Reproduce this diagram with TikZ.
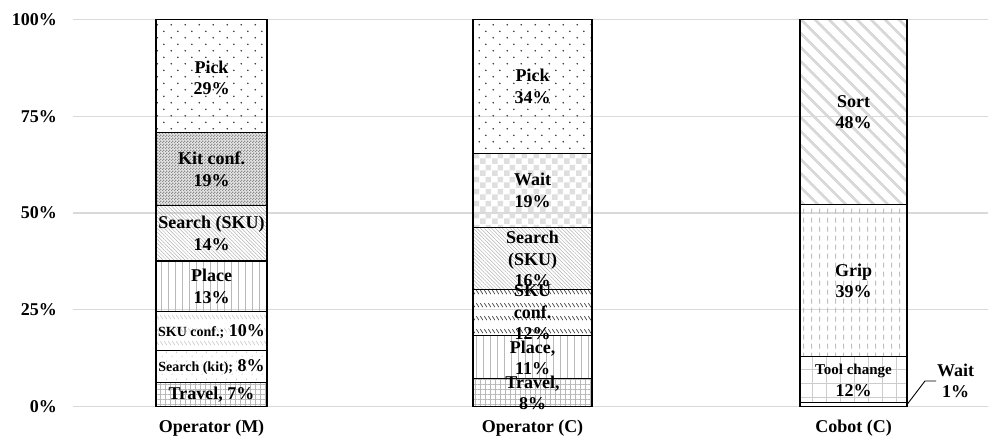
\documentclass[tikz,border=0pt]{standalone}
\usepackage{fontspec}
\setmainfont{Liberation Serif}
\usetikzlibrary{patterns.meta}
\definecolor{gridgray}{RGB}{217,217,217}

% fill patterns of the bar segments
\pgfdeclarepattern{
  name=pickdots, type=uncolored,
  bottom left={\pgfpoint{0pt}{0pt}}, top right={\pgfpoint{14pt}{13.4pt}},
  tile size={\pgfpoint{14pt}{13.4pt}},
  code={
    \pgfpathcircle{\pgfpoint{3.5pt}{3.35pt}}{0.9pt}
    \pgfpathcircle{\pgfpoint{10.5pt}{10.05pt}}{0.9pt}
    \pgfusepath{fill}
  }
}
\pgfdeclarepattern{
  name=finecheck, type=uncolored,
  bottom left={\pgfpoint{0pt}{0pt}}, top right={\pgfpoint{3pt}{3pt}},
  tile size={\pgfpoint{3pt}{3pt}},
  code={
    \pgfpathrectangle{\pgfpoint{0pt}{0pt}}{\pgfpoint{1.5pt}{1.5pt}}
    \pgfpathrectangle{\pgfpoint{1.5pt}{1.5pt}}{\pgfpoint{1.5pt}{1.5pt}}
    \pgfusepath{fill}
  }
}
\pgfdeclarepattern{
  name=widecheck, type=uncolored,
  bottom left={\pgfpoint{0pt}{0pt}}, top right={\pgfpoint{12pt}{12pt}},
  tile size={\pgfpoint{12pt}{12pt}},
  code={
    \pgfpathrectangle{\pgfpoint{0pt}{0pt}}{\pgfpoint{6pt}{6pt}}
    \pgfpathrectangle{\pgfpoint{6pt}{6pt}}{\pgfpoint{6pt}{6pt}}
    \pgfusepath{fill}
  }
}
\pgfdeclarepattern{
  name=dashdiag, type=uncolored,
  bottom left={\pgfpoint{0pt}{0pt}}, top right={\pgfpoint{4pt}{12.5pt}},
  tile size={\pgfpoint{4pt}{12.5pt}},
  code={
    \pgfsetlinewidth{0.8pt}
    \pgfpathmoveto{\pgfpoint{0.5pt}{11pt}}
    \pgfpathlineto{\pgfpoint{3.5pt}{7pt}}
    \pgfusepath{stroke}
  }
}
\pgfdeclarepattern{
  name=confetti, type=uncolored,
  bottom left={\pgfpoint{0pt}{0pt}}, top right={\pgfpoint{10pt}{9pt}},
  tile size={\pgfpoint{10pt}{9pt}},
  code={
    \pgfsetlinewidth{0.7pt}
    \pgfpathmoveto{\pgfpoint{2pt}{2pt}}
    \pgfpathlineto{\pgfpoint{2.6pt}{3.6pt}}
    \pgfpathmoveto{\pgfpoint{7pt}{6.5pt}}
    \pgfpathlineto{\pgfpoint{7.6pt}{8.1pt}}
    \pgfusepath{stroke}
  }
}
\pgfdeclarepattern{
  name=vdashes, type=uncolored,
  bottom left={\pgfpoint{0pt}{0pt}}, top right={\pgfpoint{8pt}{9pt}},
  tile size={\pgfpoint{8pt}{9pt}},
  code={
    \pgfsetlinewidth{1pt}
    \pgfpathmoveto{\pgfpoint{4pt}{1.5pt}}
    \pgfpathlineto{\pgfpoint{4pt}{7pt}}
    \pgfusepath{stroke}
  }
}

\begin{document}
\begin{tikzpicture}[x=1pt, y=3.87pt]
    \tikzstyle{seg} = [draw=black, line width=1.2pt]
    \tikzstyle{gridline} = [draw=gridgray, line width=1.4pt]
    \tikzstyle{lbl} = [font=\bfseries\fontsize{18}{21.5}\selectfont, align=center, inner sep=1pt]
    \tikzstyle{axlbl} = [font=\bfseries\fontsize{18}{21.5}\selectfont, inner sep=1pt]
    \tikzstyle{leader} = [draw=black, line width=0.9pt]
    % segment fills
    \tikzstyle{fpick} = [pattern=pickdots, pattern color=black!80]
    \tikzstyle{fkit} = [preaction={fill=gray!20}, pattern=finecheck, pattern color=gray!90]
    \tikzstyle{fsearch} = [pattern={Lines[angle=-45,distance=2.6pt,line width=0.5pt]}, pattern color=gray!60]
    \tikzstyle{fplace} = [pattern={Lines[angle=90,distance=7pt,line width=0.8pt]}, pattern color=gray!55]
    \tikzstyle{fskuconf} = [pattern=dashdiag, pattern color=gray!40]
    \tikzstyle{fskudark} = [pattern=dashdiag, pattern color=black!75]
    \tikzstyle{fkitsearch} = [pattern=confetti, pattern color=gray!45]
    \tikzstyle{ftravel} = [pattern={Hatch[angle=0,distance=5pt,line width=0.6pt]}, pattern color=gray!55]
    \tikzstyle{fwait} = [pattern=widecheck, pattern color=gray!25]
    \tikzstyle{fsort} = [pattern={Lines[angle=-45,distance=10.5pt,line width=3pt]}, pattern color=gray!30]
    \tikzstyle{fgrip} = [pattern=vdashes, pattern color=gray!50]
    \tikzstyle{ftool} = [pattern={Hatch[angle=0,distance=14pt,line width=0.8pt]}, pattern color=gray!40]

    \useasboundingbox (0,-8.4) rectangle (988,105.04);

    % gridlines and value axis
    \foreach \p in {0,25,50,75,100} {
        \draw[gridline] (73,\p) -- (988,\p);
        \node[axlbl, anchor=east] (y\p) at (58,\p) {\p\%};
    }

    % Operator (M)
    \draw[seg, ftravel] (156,0) rectangle (267,6.2);
    \draw[seg, fkitsearch] (156,6.2) rectangle (267,14.4);
    \draw[seg, fskuconf] (156,14.4) rectangle (267,24.5);
    \draw[seg, fplace] (156,24.5) rectangle (267,37.6);
    \draw[seg, fsearch] (156,37.6) rectangle (267,51.9);
    \draw[seg, fkit] (156,51.9) rectangle (267,70.7);
    \draw[seg, fpick] (156,70.7) rectangle (267,100);
    \node[lbl] (mtravel) at (211.5,3.1) {Travel, 7\%};
    \node[lbl] (mkitsearch) at (211.5,10.3) {{\fontsize{14}{16}\selectfont Search (kit);} 8\%};
    \node[lbl] (mskuconf) at (211.5,19.45) {{\fontsize{14}{16}\selectfont SKU conf.;} 10\%};
    \node[lbl] (mplace) at (211.5,31.05) {Place\\13\%};
    \node[lbl] (msearch) at (211.5,44.75) {Search (SKU)\\14\%};
    \node[lbl] (mkit) at (211.5,61.3) {Kit conf.\\19\%};
    \node[lbl] (mpick) at (211.5,84.9) {Pick\\29\%};

    % Operator (C)
    \draw[seg, ftravel] (473,0) rectangle (592,7.2);
    \draw[seg, fplace] (473,7.2) rectangle (592,18.3);
    \draw[seg, fskudark] (473,18.3) rectangle (592,30.2);
    \draw[seg, fsearch] (473,30.2) rectangle (592,46.3);
    \draw[seg, fwait] (473,46.3) rectangle (592,65.4);
    \draw[seg, fpick] (473,65.4) rectangle (592,100);
    \node[lbl] (ctravel) at (532.5,3.5) {Travel,\\8\%};
    \node[lbl] (cplace) at (532.5,12.6) {Place,\\11\%};
    \node[lbl] (cskuconf) at (532.5,24.25) {SKU\\conf.\\12\%};
    \node[lbl] (csearch) at (532.5,38.1) {Search\\(SKU)\\16\%};
    \node[lbl] (cwait) at (532.5,55.85) {Wait\\19\%};
    \node[lbl] (cpick) at (532.5,82.7) {Pick\\34\%};

    % Cobot (C)
    \draw[seg] (800,0) rectangle (907,1);
    \draw[seg, ftool] (800,1) rectangle (907,13);
    \draw[seg, fgrip] (800,13) rectangle (907,52.1);
    \draw[seg, fsort] (800,52.1) rectangle (907,100);
    \node[lbl] (ktool) at (853.5,6.8) {{\fontsize{15}{21}\selectfont Tool change}\\12\%};
    \node[lbl] (kgrip) at (853.5,32.5) {Grip\\39\%};
    \node[lbl] (ksort) at (853.5,76) {Sort\\48\%};
    \coordinate (kwaitseg) at (907,0.5);
    \node[lbl, anchor=west] (kwait) at (936,6.6) {Wait\\1\%};
    \draw[leader] (kwaitseg) -- ([xshift=-11pt]kwait.west) -- (kwait.west);

    % category axis
    \node[axlbl] (opm) at (211.5,-5.6) {Operator (M)};
    \node[axlbl] (opc) at (532.5,-5.6) {Operator (C)};
    \node[axlbl] (cobot) at (853.5,-5.6) {Cobot (C)};
\end{tikzpicture}
\end{document}
